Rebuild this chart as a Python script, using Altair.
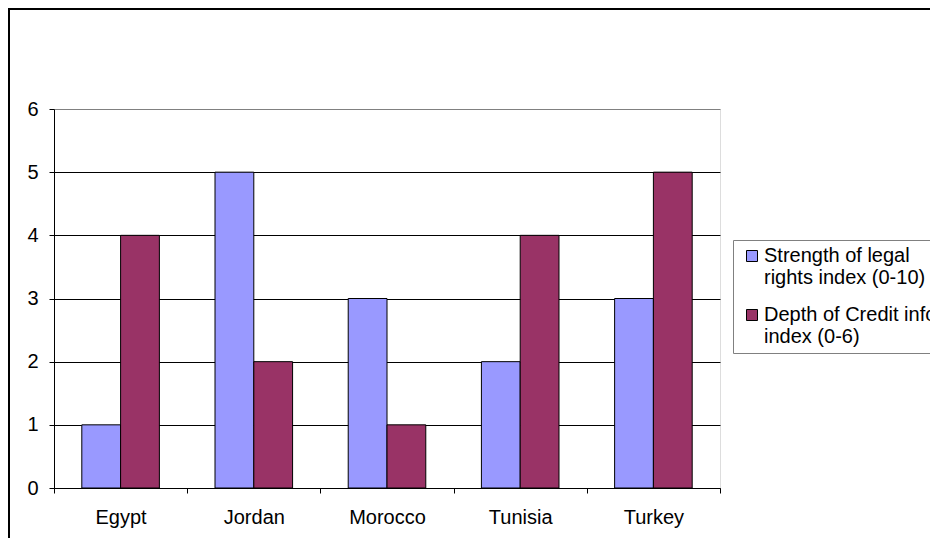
import altair as alt
import pandas as pd

countries = ["Egypt", "Jordan", "Morocco", "Tunisia", "Turkey"]
series = ["Strength of legal rights index (0-10)", "Depth of Credit information index (0-6)"]
legal_rights = [1, 5, 3, 2, 3]
credit_info = [4, 2, 1, 4, 5]
colors = ["#9999FF", "#993366"]
legend_lines = [["Strength of legal", "rights index (0-10)"], ["Depth of Credit information", "index (0-6)"]]
y_ticks = [0, 1, 2, 3, 4, 5, 6]

rows = []
for i, c in enumerate(countries):
    rows.append({"country": c, "series": series[0], "value": legal_rights[i]})
    rows.append({"country": c, "series": series[1], "value": credit_info[i]})
df = pd.DataFrame(rows)

label_expr = " : ".join(
    [f"datum.label == '{s}' ? {lines!r}" for s, lines in zip(series, legend_lines)]
) + " : datum.label"

FONT = "Liberation Sans"

bars = alt.Chart(df).mark_bar(stroke="black", strokeWidth=1).encode(
    x=alt.X("country:N", sort=countries, title=None,
            scale=alt.Scale(paddingInner=0, paddingOuter=0),
            axis=alt.Axis(labelAngle=0, tickBand="extent", domainColor="black",
                          tickColor="black", tickSize=5, labelPadding=14,
                          labelFontSize=20, labelFont=FONT, labelColor="black",
                          grid=False)),
    xOffset=alt.XOffset("series:N", sort=series,
                        scale=alt.Scale(paddingInner=0, paddingOuter=0.717)),
    y=alt.Y("value:Q", title=None,
            scale=alt.Scale(domain=[0, 6], nice=False),
            axis=alt.Axis(values=y_ticks, domainColor="black", tickColor="black",
                          tickSize=5, labelPadding=11, labelFontSize=20,
                          labelFont=FONT, labelColor="black",
                          gridColor=alt.condition("datum.value == 6", alt.value("#808080"), alt.value("black")),
                          gridWidth=1)),
    color=alt.Color("series:N", sort=series,
                    scale=alt.Scale(domain=series, range=colors),
                    legend=alt.Legend(title=None, orient="none", legendX=679, legendY=131,
                                      strokeColor="#808080", padding=6,
                                      symbolType="square", symbolSize=121,
                                      symbolStrokeColor="black", symbolStrokeWidth=1,
                                      symbolOffset=3,
                                      labelFontSize=20, labelFont=FONT, labelColor="black",
                                      labelLimit=1000, labelExpr=label_expr,
                                      labelBaseline="middle", labelOffset=2,
                                      rowPadding=17)),
)

frame = alt.Chart(pd.DataFrame({"a": [0]})).mark_rect(
    fill=None, stroke="black", strokeWidth=2
).encode(x=alt.value(-45), x2=alt.value(1000), y=alt.value(-100), y2=alt.value(1000))

chart = alt.layer(frame, bars).properties(
    width=666, height=379,
    autosize=alt.AutoSizeParams(type="none"),
    padding={"left": 46, "top": 101, "right": 210, "bottom": 50},
).configure_view(stroke="#808080", strokeWidth=1).configure(background="white")

chart.save("out.html", embed_options={"renderer": "svg", "actions": False})
